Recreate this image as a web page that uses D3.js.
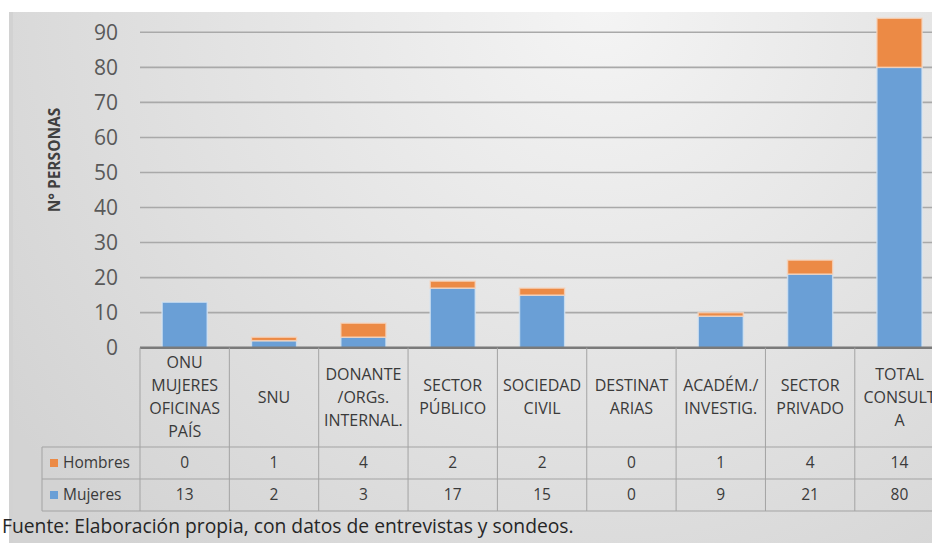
<!DOCTYPE html>
<html>
<head>
<meta charset="utf-8">
<script src="https://cdn.jsdelivr.net/npm/d3@7"></script>
<style>
  html, body { margin: 0; padding: 0; background: #ffffff; }
  svg { display: block; }
  text { font-family: "Open Sans", "Noto Sans", sans-serif; }
</style>
</head>
<body>
<svg id="chart" width="932" height="543"></svg>
<script>
// Categories (multi-line labels), one entry per column
const categories = [
  ["ONU", "MUJERES", "OFICINAS", "PAÍS"],
  ["SNU"],
  ["DONANTE", "/ORGs.", "INTERNAL."],
  ["SECTOR", "PÚBLICO"],
  ["SOCIEDAD", "CIVIL"],
  ["DESTINAT", "ARIAS"],
  ["ACADÉM./", "INVESTIG."],
  ["SECTOR", "PRIVADO"],
  ["TOTAL", "CONSULT", "A"]
];
const hombres = [0, 1, 4, 2, 2, 0, 1, 4, 14];
const mujeres = [13, 2, 3, 17, 15, 0, 9, 21, 80];
const yTicks = [0, 10, 20, 30, 40, 50, 60, 70, 80, 90];
const seriesNames = ["Mujeres", "Hombres"];
const seriesColors = { Mujeres: "#6a9fd6", Hombres: "#ec8a45" };
const seriesHalo = { Mujeres: "#d3e3f3", Hombres: "#f6d5bd" };
const yTitle = "N° PERSONAS";
const source = "Fuente: Elaboración propia, con datos de entrevistas y sondeos.";

const rows = categories.map((c, i) => ({ key: i, Mujeres: mujeres[i], Hombres: hombres[i] }));

const svg = d3.select("#chart");
const defs = svg.append("defs");

// Chart area background
const grad = defs.append("radialGradient")
  .attr("id", "bg").attr("gradientUnits", "userSpaceOnUse")
  .attr("cx", 600).attr("cy", 10).attr("r", 720);
grad.append("stop").attr("offset", "0%").attr("stop-color", "#f4f4f4");
grad.append("stop").attr("offset", "55%").attr("stop-color", "#e2e2e2");
grad.append("stop").attr("offset", "100%").attr("stop-color", "#d3d3d3");

svg.append("rect").attr("x", 9).attr("y", 12).attr("width", 940).attr("height", 540)
  .attr("fill", "url(#bg)");
svg.append("rect").attr("x", 9).attr("y", 12).attr("width", 4).attr("height", 540)
  .attr("fill", "#d2d2d2");

// Scales
const plotLeft = 140, band = 89.35;
const x = d3.scaleBand()
  .domain(rows.map(d => d.key))
  .range([plotLeft, plotLeft + band * categories.length])
  .paddingInner(0).paddingOuter(0);
const y = d3.scaleLinear().domain([0, 90]).range([347.7, 32.3]);

// Gridlines
svg.append("g")
  .selectAll("line").data(yTicks.filter(t => t > 0)).join("line")
  .attr("x1", plotLeft).attr("x2", 950)
  .attr("y1", d => y(d)).attr("y2", d => y(d))
  .attr("stroke", "#a9a9a9").attr("stroke-width", 1.6);

// Y axis labels
const yAxis = svg.append("g").attr("transform", "translate(118,0)")
  .call(d3.axisLeft(y).tickValues(yTicks).tickSize(0).tickPadding(0));
yAxis.select(".domain").remove();
yAxis.selectAll("text")
  .attr("font-family", "'Open Sans', sans-serif")
  .attr("font-size", 21).attr("fill", "#595959");

// Y title
svg.append("text")
  .attr("transform", "translate(60,160) rotate(-90)")
  .attr("text-anchor", "middle")
  .attr("font-size", 15.5).attr("font-weight", "bold").attr("fill", "#404040")
  .text(yTitle);

// Stacked bars
const stack = d3.stack().keys(seriesNames)(rows);
const barW = band * 0.505;
const barG = svg.append("g");
stack.forEach(layer => {
  barG.append("g")
    .selectAll("rect").data(layer.filter(d => d[1] - d[0] > 0)).join("rect")
    .attr("x", d => x(d.data.key) + (band - barW) / 2)
    .attr("width", barW)
    .attr("y", d => y(d[1]))
    .attr("height", d => y(d[0]) - y(d[1]))
    .attr("fill", seriesColors[layer.key])
    .attr("stroke", seriesHalo[layer.key])
    .attr("stroke-width", 1.5)
    .attr("stroke-opacity", 0.8);
});

// Baseline
svg.append("line")
  .attr("x1", plotLeft).attr("x2", 950)
  .attr("y1", y(0)).attr("y2", y(0))
  .attr("stroke", "#7a7a7a").attr("stroke-width", 2.6);

// Data table
const tableTop = y(0), headBottom = 447, row1Bottom = 479, row2Bottom = 511, legendLeft = 42;
const tg = svg.append("g").attr("stroke", "#a3a3a3").attr("stroke-width", 1);
const bounds = d3.range(categories.length + 1).map(i => plotLeft + i * band);
tg.selectAll("line.v").data(bounds).join("line").attr("class", "v")
  .attr("x1", d => d).attr("x2", d => d)
  .attr("y1", tableTop).attr("y2", row2Bottom);
tg.append("line").attr("x1", legendLeft).attr("x2", legendLeft)
  .attr("y1", headBottom).attr("y2", row2Bottom);
[headBottom, row1Bottom, row2Bottom].forEach(yy => {
  tg.append("line").attr("x1", legendLeft).attr("x2", 950).attr("y1", yy).attr("y2", yy);
});

// Category header labels
const lineH = 23, headMid = (tableTop + headBottom) / 2;
const heads = svg.append("g").selectAll("text").data(rows).join("text")
  .attr("text-anchor", "middle").attr("font-size", 16).attr("fill", "#3a3a3a")
  .attr("x", d => x(d.key) + band / 2);
heads.each(function (d) {
  const lines = categories[d.key];
  const t = d3.select(this);
  lines.forEach((ln, j) => {
    t.append("tspan")
      .attr("x", x(d.key) + band / 2)
      .attr("y", headMid + (j - (lines.length - 1) / 2) * lineH)
      .attr("dy", "0.35em")
      .text(ln);
  });
});

// Value rows
const tableRows = [
  { name: "Hombres", values: hombres, top: headBottom, bottom: row1Bottom },
  { name: "Mujeres", values: mujeres, top: row1Bottom, bottom: row2Bottom }
];
tableRows.forEach(r => {
  const mid = (r.top + r.bottom) / 2;
  svg.append("g").selectAll("text").data(r.values).join("text")
    .attr("x", (d, i) => x(i) + band / 2)
    .attr("y", mid).attr("dy", "0.35em")
    .attr("text-anchor", "middle").attr("font-size", 15.5).attr("fill", "#3a3a3a")
    .text(d => d);
  svg.append("rect").attr("x", 50).attr("y", mid - 4).attr("width", 8).attr("height", 8)
    .attr("fill", seriesColors[r.name]);
  svg.append("text").attr("x", 63).attr("y", mid).attr("dy", "0.35em")
    .attr("font-size", 15.5).attr("fill", "#3a3a3a").text(r.name);
});

// Source note
svg.append("text").attr("x", 2).attr("y", 533)
  .attr("font-size", 19.3).attr("fill", "#262626").text(source);
</script>
</body>
</html>
